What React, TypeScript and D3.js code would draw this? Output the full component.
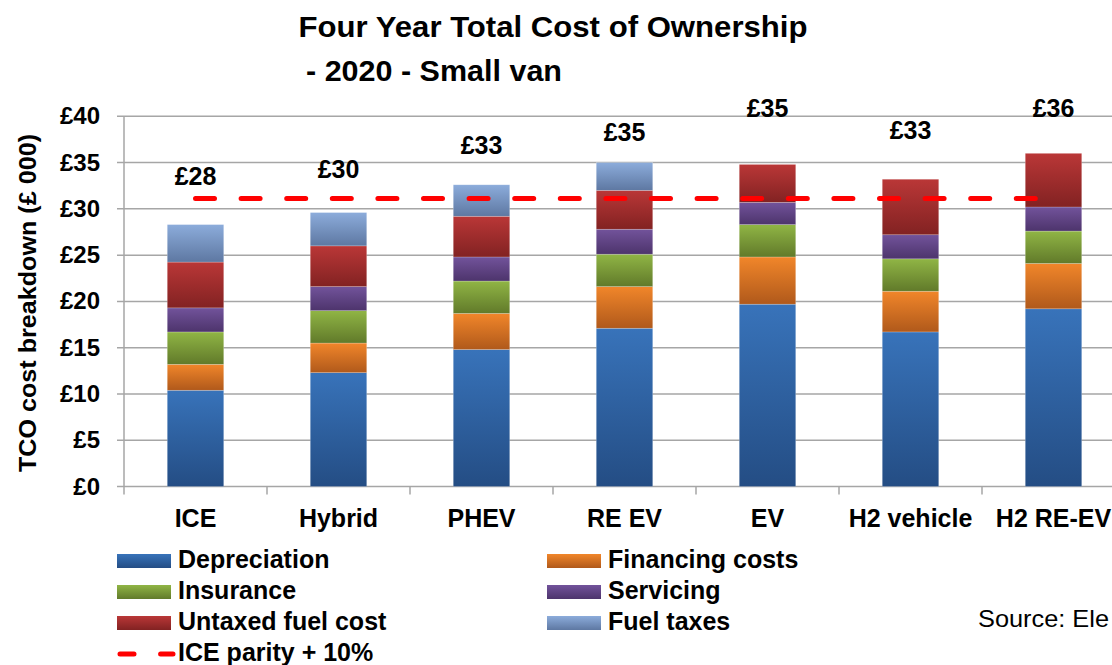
import React from "react";
import * as d3 from "d3";

const categories = ["ICE", "Hybrid", "PHEV", "RE EV", "EV", "H2 vehicle", "H2 RE-EV"];
const seriesNames = ["Depreciation", "Financing costs", "Insurance", "Servicing", "Untaxed fuel cost", "Fuel taxes"];
const depreciation = [10.4, 12.3, 14.8, 17.1, 19.7, 16.7, 19.2];
const financing = [2.8, 3.2, 3.9, 4.5, 5.1, 4.4, 4.9];
const insurance = [3.5, 3.5, 3.5, 3.5, 3.5, 3.5, 3.5];
const servicing = [2.6, 2.6, 2.6, 2.7, 2.4, 2.6, 2.6];
const untaxedFuel = [4.95, 4.4, 4.4, 4.2, 4.1, 6.0, 5.8];
const fuelTaxes = [4.05, 3.6, 3.4, 3.0, 0, 0, 0];
const labelAnchor = [32.6, 33.3, 35.9, 37.3, 39.9, 37.5, 39.9];
const yTicks = [0, 5, 10, 15, 20, 25, 30, 35, 40];
const parityFactor = 1.1;

const seriesColors: [string, string][] = [
  ["#3873ba", "#244d84"],
  ["#f1862a", "#b0591b"],
  ["#90b545", "#617a2a"],
  ["#72539b", "#4d346c"],
  ["#ba3737", "#822222"],
  ["#8cacdb", "#5e78a2"],
];

const FONT = "'Liberation Sans', Arial, sans-serif";

export default function App() {
  const W = 1112, H = 665;
  const series = [depreciation, financing, insurance, servicing, untaxedFuel, fuelTaxes];
  const rows = categories.map((c, i) => {
    const r: any = { cat: c };
    seriesNames.forEach((s, k) => (r[s] = series[k][i]));
    return r;
  });
  const stacked = d3.stack().keys(seriesNames)(rows);
  const totals = categories.map((_, i) => d3.sum(series, (s) => s[i]));

  const x = d3.scaleBand().domain(categories).range([124, 124 + 7 * 143]).paddingInner(0.605).paddingOuter(0.3025);
  const y = d3.scaleLinear().domain([0, 40]).range([486.5, 116.3]);
  const step = x.step();
  const parity = totals[0] * parityFactor;
  const lineGen = d3.line<number>().x((_, i) => (x(categories[i]) as number) + x.bandwidth() / 2).y((v) => y(v));
  const parityData = categories.map(() => parity);

  const legendRows = [
    { col: 0, row: 0, k: 0 },
    { col: 1, row: 0, k: 1 },
    { col: 0, row: 1, k: 2 },
    { col: 1, row: 1, k: 3 },
    { col: 0, row: 2, k: 4 },
    { col: 1, row: 2, k: 5 },
  ];
  const legX = [117, 547];
  const legBase = [568, 599, 630, 661];

  return (
    <svg width={W} height={H} style={{ position: "absolute", left: 0, top: 0, background: "#fff" }} fontFamily={FONT}>
      <defs>
        {seriesColors.map((c, k) => (
          <linearGradient key={k} id={`g${k}`} x1="0" y1="0" x2="0" y2="1">
            <stop offset="0" stopColor={c[0]} />
            <stop offset="1" stopColor={c[1]} />
          </linearGradient>
        ))}
      </defs>
      {/* title */}
      <text x={553} y={37} textAnchor="middle" fontSize={29} fontWeight="bold" textLength={509} lengthAdjust="spacingAndGlyphs">
        Four Year Total Cost of Ownership
      </text>
      <text x={306} y={81} fontSize={29} fontWeight="bold" textLength={256} lengthAdjust="spacingAndGlyphs">
        - 2020 - Small van
      </text>
      {/* gridlines */}
      {yTicks.map((t) => (
        <g key={t}>
          <line x1={117} x2={W} y1={y(t)} y2={y(t)} stroke="#a6a6a6" strokeWidth={1.5} />
          <text x={100} y={y(t) + 8} textAnchor="end" fontSize={24} fontWeight="bold">
            £{t}
          </text>
        </g>
      ))}
      <line x1={124} x2={124} y1={y(40)} y2={y(0)} stroke="#a6a6a6" strokeWidth={1.5} />
      {d3.range(categories.length + 1).map((i) => (
        <line key={i} x1={124 + i * step} x2={124 + i * step} y1={y(0)} y2={y(0) + 8} stroke="#a6a6a6" strokeWidth={1.5} />
      ))}
      <text transform={`translate(36,303) rotate(-90)`} textAnchor="middle" fontSize={24} fontWeight="bold" textLength={338} lengthAdjust="spacingAndGlyphs">
        TCO cost breakdown (£ 000)
      </text>
      {/* bars */}
      {stacked.map((layer, k) => (
        <g key={k} fill={`url(#g${k})`}>
          {layer.map((d, i) =>
            d[1] - d[0] > 0 ? (
              <rect
                key={i}
                x={x(categories[i])}
                width={x.bandwidth()}
                y={y(d[1])}
                height={y(d[0]) - y(d[1])}
                stroke="rgba(255,255,255,0.35)"
                strokeWidth={0.6}
              />
            ) : null
          )}
        </g>
      ))}
      {/* value labels */}
      {categories.map((c, i) => (
        <text key={c} x={(x(c) as number) + x.bandwidth() / 2} y={y(labelAnchor[i])} textAnchor="middle" fontSize={25} fontWeight="bold">
          £{Math.round(totals[i])}
        </text>
      ))}
      {/* parity line */}
      <path d={lineGen(parityData) as string} fill="none" stroke="#ff0000" strokeWidth={5} strokeDasharray="19 26.6" strokeLinecap="round" />
      {/* x labels */}
      {categories.map((c) => (
        <text key={c} x={(x(c) as number) + x.bandwidth() / 2} y={527} textAnchor="middle" fontSize={25} fontWeight="bold">
          {c}
        </text>
      ))}
      {/* legend */}
      {legendRows.map(({ col, row, k }) => (
        <g key={k}>
          <rect x={legX[col]} y={legBase[row] - 14} width={54} height={14} fill={`url(#g${k})`} />
          <text x={legX[col] + 61} y={legBase[row]} fontSize={25} fontWeight="bold">
            {seriesNames[k]}
          </text>
        </g>
      ))}
      <line x1={120} x2={173} y1={legBase[3] - 7} y2={legBase[3] - 7} stroke="#ff0000" strokeWidth={5} strokeDasharray="14 26.6" strokeLinecap="round" />
      <text x={178} y={legBase[3]} fontSize={25} fontWeight="bold">
        ICE parity + 10%
      </text>
      <text x={978} y={627} fontSize={24} textLength={131} lengthAdjust="spacingAndGlyphs">
        Source: Ele
      </text>
    </svg>
  );
}
